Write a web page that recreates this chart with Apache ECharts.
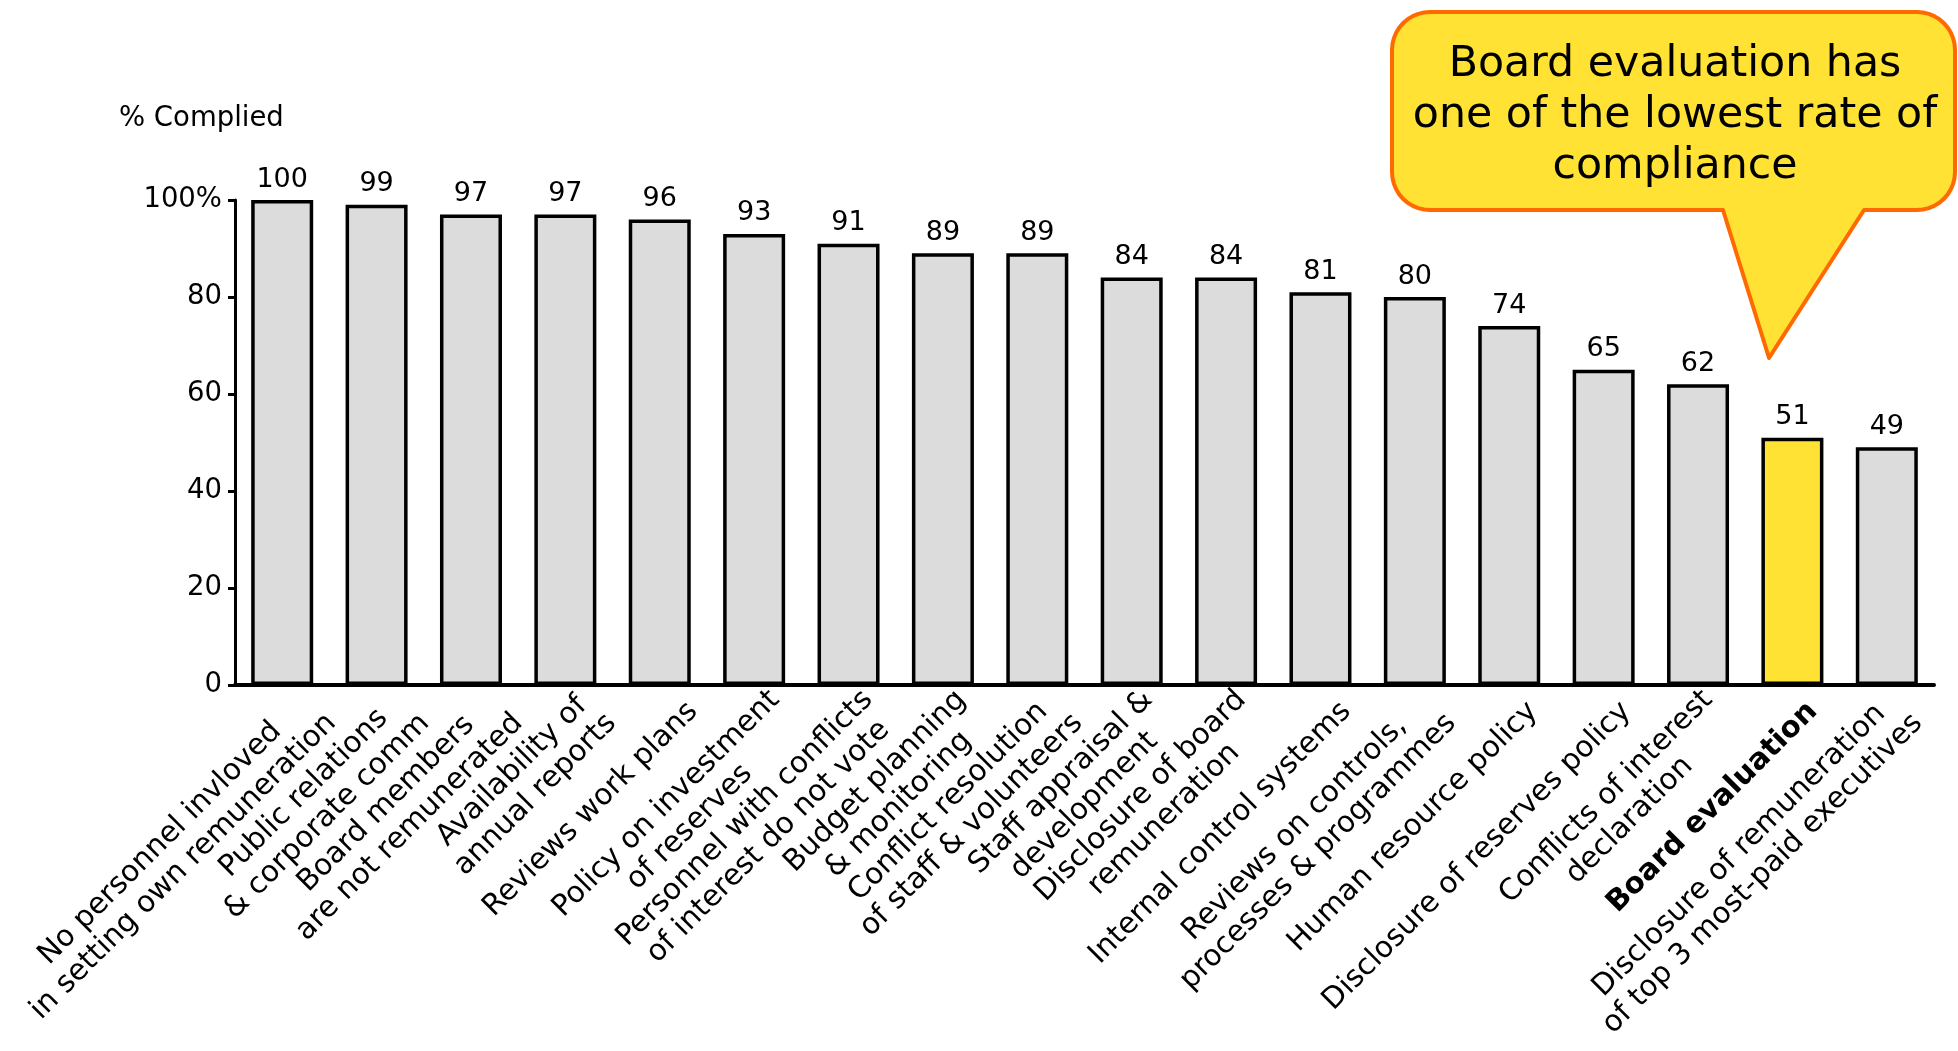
<!DOCTYPE html>
<html>
<head>
<meta charset="utf-8">
<script src="https://cdn.jsdelivr.net/npm/echarts@6/dist/echarts.min.js"></script>
<style>
html,body{margin:0;padding:0;background:#fff;}
#chart{width:1958px;height:1051px;}
</style>
</head>
<body>
<div id="chart"></div>
<script>
var categories = [
  "No personnel invloved\nin setting own remuneration",
  "Public relations\n& corporate comm",
  "Board members\nare not remunerated",
  "Availability of\nannual reports",
  "Reviews work plans",
  "Policy on investment\nof reserves",
  "Personnel with conflicts\nof interest do not vote",
  "Budget planning\n& monitoring",
  "Conflict resolution\nof staff & volunteers",
  "Staff appraisal &\ndevelopment",
  "Disclosure of board\nremuneration",
  "Internal control systems",
  "Reviews on controls,\nprocesses & programmes",
  "Human resource policy",
  "Disclosure of reserves policy",
  "Conflicts of interest\ndeclaration",
  "Board evaluation",
  "Disclosure of remuneration\nof top 3 most-paid executives"
];
var values = [100, 99, 97, 97, 96, 93, 91, 89, 89, 84, 84, 81, 80, 74, 65, 62, 51, 49];
var highlightCategory = "Board evaluation";
var yTicks = [0, 20, 40, 60, 80, 100];
var axisTitle = "% Complied";
var calloutText = "Board evaluation has\none of the lowest rate of\ncompliance";

var FONT = "'DejaVu Sans', Verdana, sans-serif";
var GREY = "#dcdcdc";
var YELLOW = "#ffe234";
var ORANGE = "#ff6a00";

var barData = values.map(function (v, i) {
  var hi = categories[i] === highlightCategory;
  return { value: v, itemStyle: { color: hi ? YELLOW : GREY } };
});

function calloutPoints() {
  var L = 1392, T = 12, R = 1955, B = 210, r = 38;
  var pts = [];
  function arc(cx, cy, a0, a1) {
    var n = 10;
    for (var k = 0; k <= n; k++) {
      var a = a0 + (a1 - a0) * k / n;
      pts.push([cx + r * Math.cos(a), cy + r * Math.sin(a)]);
    }
  }
  arc(L + r, T + r, Math.PI, 1.5 * Math.PI);
  arc(R - r, T + r, 1.5 * Math.PI, 2 * Math.PI);
  arc(R - r, B - r, 0, 0.5 * Math.PI);
  pts.push([1864, B]);
  pts.push([1769, 358]);
  pts.push([1723, B]);
  arc(L + r, B - r, 0.5 * Math.PI, Math.PI);
  return pts;
}

var chart = echarts.init(document.getElementById('chart'), null, { renderer: 'canvas' });
chart.setOption({
  backgroundColor: '#ffffff',
  animation: false,
  title: {
    text: axisTitle,
    left: 119,
    top: 105,
    padding: 0,
    textStyle: { fontFamily: FONT, fontSize: 27.5, fontWeight: 'normal', color: '#000' }
  },
  grid: [
    { left: 235, right: 24, top: 200, bottom: 366, containLabel: false },
    { left: 254, right: 5, top: 200, bottom: 366, containLabel: false }
  ],
  xAxis: [
    {
      type: 'category',
      gridIndex: 0,
      data: categories,
      axisLine: { show: true, lineStyle: { color: '#000', width: 4 } },
      axisTick: { show: false },
      axisLabel: { show: false },
      splitLine: { show: false }
    },
    {
      type: 'category',
      gridIndex: 1,
      data: categories,
      axisLine: { show: false },
      axisTick: { show: false },
      splitLine: { show: false },
      axisLabel: {
        show: true,
        interval: 0,
        rotate: 45,
        margin: 22,
        fontFamily: FONT,
        fontSize: 29.5,
        color: '#000',
        formatter: function (val) {
          if (val === highlightCategory) return '{b|' + val + '}';
          return val.split('\n').map(function (s) { return '{c|' + s + '}'; }).join('\n');
        },
        rich: {
          c: { align: 'center', fontFamily: FONT, fontSize: 29.5, lineHeight: 33, color: '#000' },
          b: { align: 'center', fontFamily: FONT, fontSize: 29.5, lineHeight: 33, fontWeight: 'bold', color: '#000' }
        }
      }
    }
  ],
  yAxis: [
    {
      type: 'value',
      gridIndex: 0,
      min: yTicks[0],
      max: yTicks[yTicks.length - 1],
      interval: yTicks[1] - yTicks[0],
      axisLine: { show: true, lineStyle: { color: '#000', width: 3 } },
      axisTick: { show: true, length: 7, lineStyle: { color: '#000', width: 3 } },
      splitLine: { show: false },
      axisLabel: {
        margin: 13,
        fontFamily: FONT,
        fontSize: 27.5,
        color: '#000',
        formatter: function (v) { return v === 100 ? '100%' : String(v); }
      }
    },
    { type: 'value', gridIndex: 1, min: 0, max: 100, show: false }
  ],
  series: [
    {
      type: 'bar',
      xAxisIndex: 0,
      yAxisIndex: 0,
      data: barData,
      barWidth: 62,
      itemStyle: { borderColor: '#000', borderWidth: 3.5 },
      label: {
        show: true,
        position: 'top',
        distance: 7,
        fontFamily: FONT,
        fontSize: 27,
        color: '#000'
      }
    }
  ],
  graphic: [
    {
      type: 'polygon',
      z: 100,
      shape: { points: calloutPoints() },
      style: { fill: YELLOW, stroke: ORANGE, lineWidth: 4, lineJoin: 'round' }
    },
    {
      type: 'text',
      z: 101,
      x: 1675,
      y: 116,
      style: {
        text: calloutText,
        fill: '#000',
        fontFamily: FONT,
        fontSize: 42.7,
        lineHeight: 51,
        align: 'center',
        verticalAlign: 'middle'
      }
    }
  ]
});
</script>
</body>
</html>
